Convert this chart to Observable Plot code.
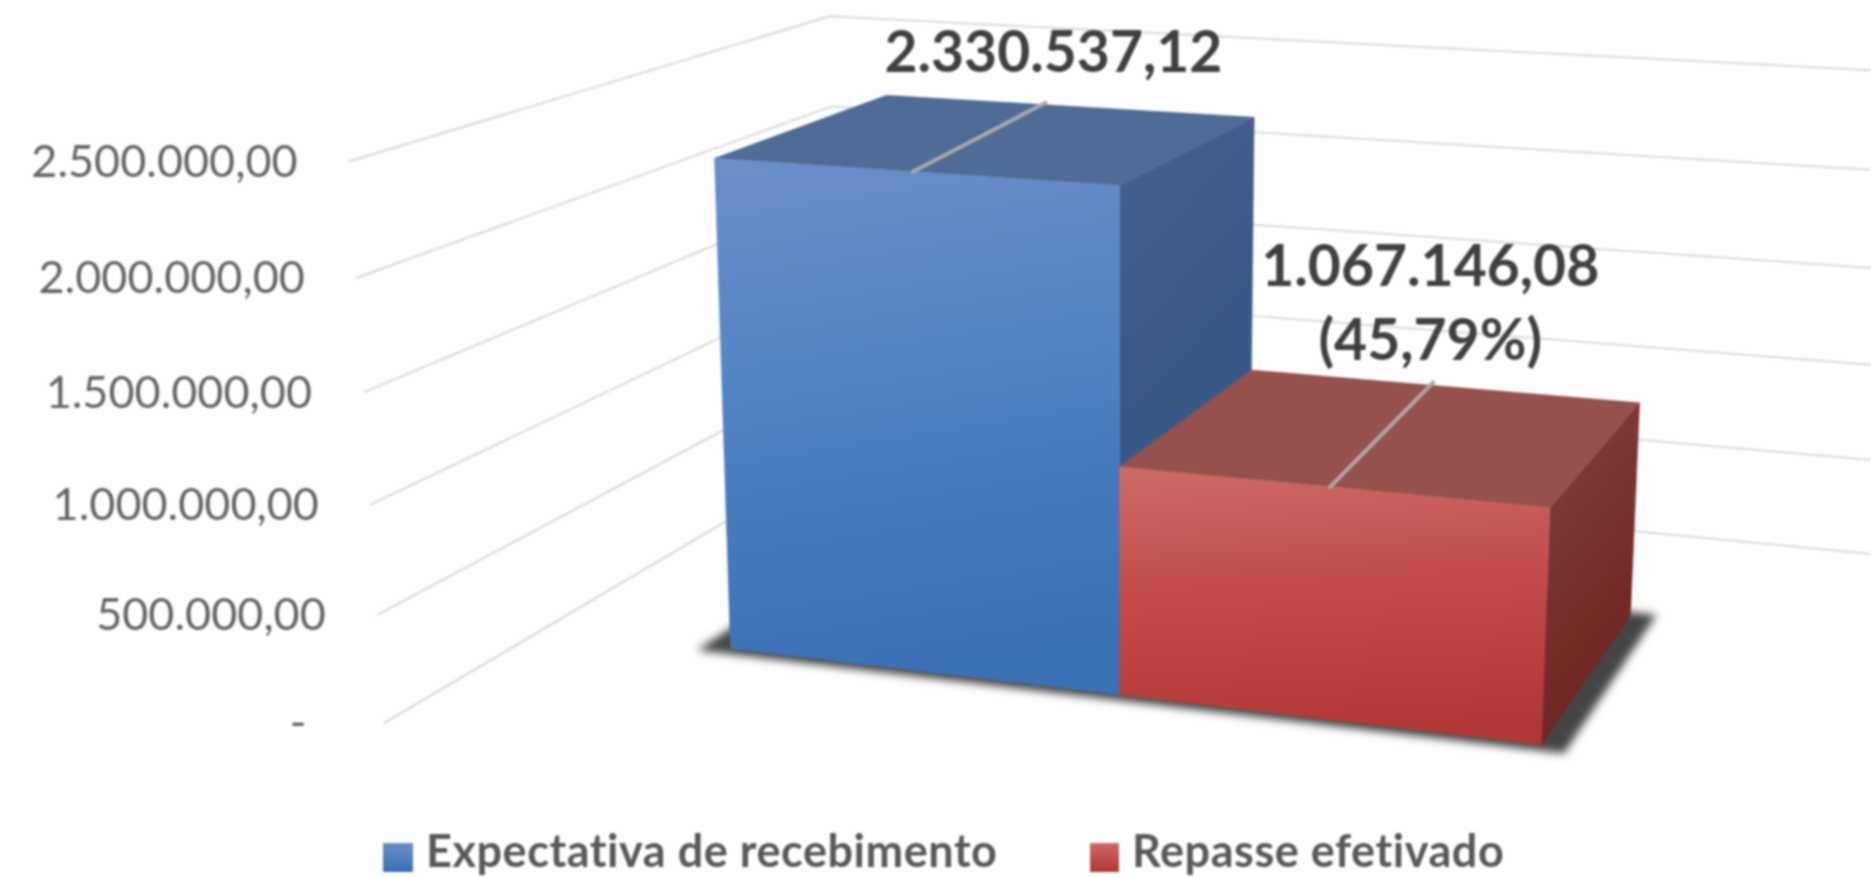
<!DOCTYPE html>
<html lang="pt">
<head>
<meta charset="utf-8">
<script src="https://cdn.jsdelivr.net/npm/d3@7"></script>
<script src="https://cdn.jsdelivr.net/npm/@observablehq/plot@0.6"></script>
<style>
  html, body { margin: 0; padding: 0; background: #fff; overflow: hidden; }
  #page { width: 1871px; height: 878px; overflow: hidden; filter: blur(0.9px); }
  #chart svg { display: block; }
  #legend { position: relative; height: 48px; font: 700 45px Lato, sans-serif; letter-spacing: 0.55px; color: #595959; white-space: nowrap; }
  #legend span { position: absolute; top: 0; line-height: 41px; }
  #legend i { position: absolute; top: 13px; height: 29px; display: block; }
</style>
</head>
<body>
<div id="page"><div id="chart"></div><div id="legend"></div></div>
<script>
// ---- data ----
const categories = ["Expectativa de recebimento", "Repasse efetivado"];
const values = [2330537.12, 1067146.08];
const valueLabels = ["2.330.537,12", "1.067.146,08\n(45,79%)"];
const tickValues = [0, 500000, 1000000, 1500000, 2000000, 2500000];
const tickLabels = ["-", "500.000,00", "1.000.000,00", "1.500.000,00", "2.000.000,00", "2.500.000,00"];

// ---- 3D chart space: u = category slots, v = value, w = depth ----
const W = 1871, H = 830;
const uMin = -0.5, uMax = 2.5, wFront = -0.75, wBack = 1.75;
function project(u, value, w) {
  const v = value / 1e6;
  const d = 1 - 0.0391 * u - 0.017 * v + 0.1116 * w;
  return {
    x: (730 + 345.2 * u - 19 * v + 264 * w) / d,
    y: (648 + 18.9 * u - 213 * v - 50 * w) / d
  };
}

const face = (fill, ...corners) => Plot.line(
  [...corners, corners[0]].map(c => project(...c)),
  {x: "x", y: "y", fill, stroke: fill, strokeWidth: 0.5}
);

const gridlines = tickValues.map(t => Plot.line(
  [[uMin, t, wFront], [uMin, t, wBack], [uMax, t, wBack]].map(c => project(...c)),
  {x: "x", y: "y", stroke: "#d9d9d9", strokeWidth: 2}
));

const tickMarks = tickValues.map((t, i) => Plot.text(
  [{...project(uMin, t, wFront), label: tickLabels[i]}],
  {x: "x", y: "y", text: "label", textAnchor: "end", dx: t === 0 ? -78 : -52, dy: 1,
   fontFamily: "Lato, sans-serif", fontSize: 45, fill: "#666666"}
));

const shadow = Plot.line(
  [[-0.07, 0, -0.04], [2.06, 0, -0.04], [2.06, 0, 1.03], [-0.07, 0, 1.03], [-0.07, 0, -0.04]].map(c => project(...c)),
  {x: "x", y: "y", fill: "#444444", stroke: "none", imageFilter: "blur(4px)"}
);

const palettes = [
  {front: "url(#blueFront)", side: "url(#blueSide)", top: "#4f6b96"},
  {front: "url(#redFront)", side: "url(#redSide)", top: "#96504d"}
];
const bars = values.flatMap((value, i) => {
  const p = palettes[i], a = i, b = i + 1;
  return [
    face(p.side, [b, 0, 0], [b, value, 0], [b, value, 1], [b, 0, 1]),
    face(p.top, [a, value, 0], [b, value, 0], [b, value, 1], [a, value, 1]),
    face(p.front, [a, 0, 0], [b, 0, 0], [b, value, 0], [a, value, 0])
  ];
});

const leaderEnds = [0.43, 1.47];
const leaders = values.map((value, i) => Plot.line(
  [project(i + 0.5, value, 0), project(leaderEnds[i], value, 1.03)],
  {x: "x", y: "y", stroke: "#a9a9a9", strokeWidth: 4}
));

const labelOffsets = [{dx: 8, dy: -54}, {dx: -3, dy: -83}];
const dataLabels = values.map((value, i) => Plot.text(
  [{...project(leaderEnds[i], value, 1.03), label: valueLabels[i]}],
  {x: "x", y: "y", text: "label", textAnchor: "middle", ...labelOffsets[i], lineHeight: 1.3,
   fontFamily: "Lato, sans-serif", fontWeight: 700, fontSize: 57, fill: "#404040"}
));

function gradient(id, x2, y2, stops) {
  const g = defs.append("linearGradient").attr("id", id)
    .attr("x1", 0).attr("y1", 0).attr("x2", x2).attr("y2", y2);
  stops.forEach(([o, c]) => g.append("stop").attr("offset", o).attr("stop-color", c));
}
const defs = d3.create("svg:defs");
gradient("blueFront", 0.12, 1, [[0, "#6a8fc8"], [0.55, "#4d80c2"], [1, "#3a70b4"]]);
gradient("blueSide", 0.25, 1, [[0, "#45618c"], [1, "#2d5483"]]);
gradient("redFront", 0.1, 1, [[0, "#cc6c68"], [0.5, "#c34b47"], [1, "#b13935"]]);
gradient("redSide", 0.35, 1, [[0, "#81423e"], [1, "#6f2320"]]);

const chart = Plot.plot({
  width: W, height: H, margin: 0,
  x: {domain: [0, W], range: [0, W], axis: null},
  y: {domain: [0, H], range: [0, H], axis: null},
  marks: [() => defs.node(), ...gridlines, ...tickMarks, shadow, ...bars, ...leaders, ...dataLabels]
});
document.getElementById("chart").append(chart);

// ---- legend, below the SVG ----
const legend = d3.select("#legend");
const swatches = [
  {left: 383, width: 30, textLeft: 426, bg: "linear-gradient(#6a8fc8,#3a70b4)"},
  {left: 1090, width: 29, textLeft: 1132, bg: "linear-gradient(#cc6c68,#b13935)"}
];
categories.forEach((c, i) => {
  const s = swatches[i];
  legend.append("i").style("left", s.left + "px").style("width", s.width + "px").style("background", s.bg);
  legend.append("span").style("left", s.textLeft + "px").text(c);
});
</script>
</body>
</html>
